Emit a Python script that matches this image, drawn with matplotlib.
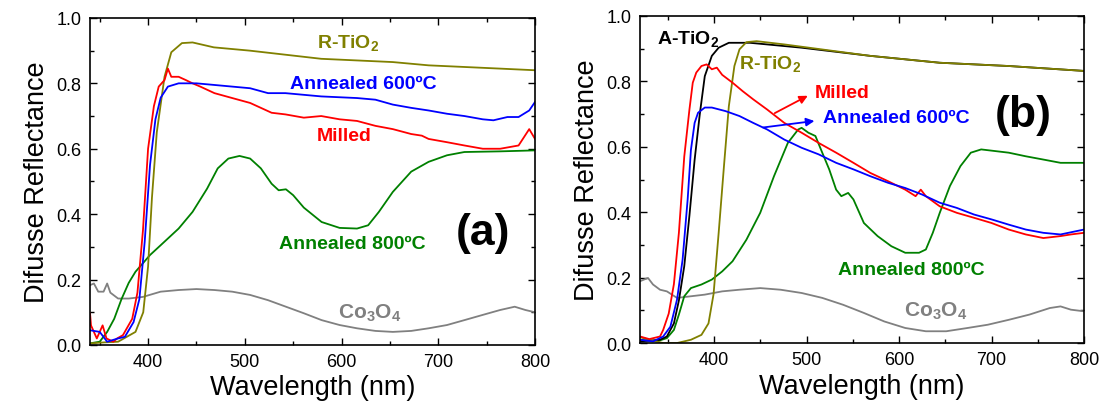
import matplotlib
matplotlib.use("Agg")
import matplotlib.pyplot as plt
from matplotlib.ticker import MultipleLocator

plt.rcParams['font.family'] = ['Liberation Sans', 'DejaVu Sans']
plt.rcParams['mathtext.fontset'] = 'custom'
plt.rcParams['mathtext.rm'] = 'Liberation Sans:bold'
plt.rcParams['mathtext.bf'] = 'Liberation Sans:bold'
plt.rcParams['mathtext.it'] = 'Liberation Sans:bold'

# ---------------- Panel (a) data ----------------
a_rtio2_w = [340, 355, 369, 387, 395, 400, 404, 409, 417, 424, 435, 446, 468, 505, 579, 653, 690, 764, 800]
a_rtio2_r = [0.005, 0.008, 0.01, 0.04, 0.10, 0.24, 0.45, 0.65, 0.82, 0.895, 0.923, 0.925, 0.91, 0.90, 0.875, 0.865, 0.855, 0.845, 0.84]

a_milled_w = [340, 341, 344, 347, 353, 357, 364, 368, 374, 383.6, 389, 394.7, 400, 406, 411, 417, 420.5, 424, 431.6, 439, 446, 454, 468.6, 487, 505.5, 527.7, 542, 561, 579, 598, 616, 635, 653, 672, 683, 690, 709, 727, 746, 764, 783, 794, 800]
a_milled_r = [0.097, 0.06, 0.04, 0.02, 0.06, 0.02, 0.01, 0.02, 0.03, 0.08, 0.16, 0.35, 0.60, 0.73, 0.79, 0.81, 0.845, 0.82, 0.82, 0.81, 0.80, 0.79, 0.77, 0.755, 0.74, 0.71, 0.705, 0.695, 0.70, 0.69, 0.685, 0.67, 0.66, 0.645, 0.64, 0.63, 0.62, 0.61, 0.60, 0.60, 0.61, 0.66, 0.63]

a_ann600_w = [340, 350, 357.7, 369, 376, 385, 391, 396.5, 402, 407.6, 413, 420.5, 431.6, 450, 468.6, 487, 505.5, 524, 542, 579, 616, 635, 653, 672, 690, 709, 727, 746, 757, 771.5, 783, 794, 800]
a_ann600_r = [0.045, 0.04, 0.01, 0.02, 0.025, 0.07, 0.14, 0.315, 0.55, 0.69, 0.756, 0.79, 0.80, 0.80, 0.795, 0.79, 0.785, 0.77, 0.77, 0.76, 0.755, 0.75, 0.735, 0.725, 0.717, 0.707, 0.70, 0.69, 0.687, 0.697, 0.697, 0.717, 0.743]

a_ann800_w = [340, 350, 357.7, 365, 372.5, 380, 387, 394.7, 402, 413, 431.6, 446, 461, 472, 483, 494.5, 505.5, 516.6, 527.7, 535, 542.5, 550, 561, 579.4, 598, 616, 627.5, 638.6, 653, 672, 690, 709, 727, 764, 800]
a_ann800_r = [0.005, 0.01, 0.04, 0.08, 0.14, 0.19, 0.224, 0.25, 0.275, 0.305, 0.356, 0.407, 0.478, 0.54, 0.57, 0.578, 0.57, 0.54, 0.493, 0.473, 0.476, 0.458, 0.42, 0.376, 0.358, 0.356, 0.366, 0.407, 0.468, 0.53, 0.56, 0.58, 0.59, 0.592, 0.595]

a_co3o4_w = [340, 344, 348.5, 354, 357.7, 361, 369, 380, 394.7, 413, 431.6, 450, 468.6, 487, 505.5, 524, 542.5, 561, 579.4, 598, 616, 635, 653, 672, 690, 709, 727, 746, 764, 779, 790, 800]
a_co3o4_r = [0.183, 0.188, 0.163, 0.163, 0.188, 0.16, 0.142, 0.142, 0.147, 0.163, 0.168, 0.171, 0.168, 0.163, 0.153, 0.137, 0.117, 0.097, 0.076, 0.061, 0.051, 0.043, 0.04, 0.043, 0.051, 0.061, 0.076, 0.092, 0.107, 0.117, 0.107, 0.10]

# ---------------- Panel (b) data ----------------
b_atio2_w = [320, 341.6, 349, 356.6, 362, 367.8, 373.4, 379, 384.6, 390, 397.6, 405, 416, 438.7, 494.7, 569, 644, 718.6, 800]
b_atio2_r = [0.005, 0.01, 0.02, 0.06, 0.13, 0.235, 0.39, 0.56, 0.70, 0.816, 0.878, 0.903, 0.918, 0.918, 0.903, 0.878, 0.857, 0.847, 0.832]

b_rtio2_w = [320, 330, 345, 360, 375, 386.4, 394, 399.5, 405, 410.7, 416, 422, 427.5, 435, 446, 476, 569, 644, 718.6, 800]
b_rtio2_r = [0.018, 0.01, 0.0, 0.0, 0.01, 0.025, 0.06, 0.15, 0.337, 0.54, 0.724, 0.847, 0.898, 0.92, 0.923, 0.913, 0.878, 0.857, 0.847, 0.832]

b_milled_w = [320, 330, 341.6, 345, 351, 356.6, 362, 367.8, 373.4, 377, 380.8, 386.4, 392, 397.6, 403, 408.8, 420, 431, 442.4, 457.4, 476, 494.7, 513, 532, 550.7, 569, 588, 606.7, 617.9, 623.5, 629, 644, 662.6, 681, 700, 718.6, 737, 756, 774.6, 785.8, 800]
b_milled_r = [0.02, 0.012, 0.02, 0.04, 0.09, 0.18, 0.337, 0.57, 0.714, 0.796, 0.827, 0.847, 0.852, 0.837, 0.842, 0.82, 0.796, 0.77, 0.745, 0.714, 0.673, 0.643, 0.612, 0.582, 0.551, 0.52, 0.495, 0.469, 0.449, 0.469, 0.449, 0.418, 0.398, 0.383, 0.367, 0.347, 0.332, 0.321, 0.327, 0.332, 0.337]

b_ann600_w = [320, 334, 345, 352.8, 360, 366, 371.5, 375, 379, 382.7, 390, 397.6, 412.6, 427.5, 442.4, 457.4, 476, 494.7, 513, 532, 550.7, 569, 588, 606.7, 625, 644, 662.6, 681, 700, 718.6, 737, 756, 774.6, 800]
b_ann600_r = [0.01, 0.005, 0.02, 0.05, 0.133, 0.255, 0.44, 0.59, 0.673, 0.704, 0.72, 0.72, 0.709, 0.694, 0.673, 0.653, 0.622, 0.597, 0.577, 0.551, 0.531, 0.51, 0.49, 0.474, 0.454, 0.429, 0.413, 0.393, 0.378, 0.362, 0.347, 0.337, 0.332, 0.347]

b_ann800_w = [320, 338, 349, 356.6, 362, 367.8, 375, 386.4, 397.6, 408.8, 420, 435, 449.9, 464.8, 479.8, 491, 494.7, 502, 509.6, 517, 524.5, 532, 537.6, 545, 550.7, 562, 576.8, 591.7, 606.7, 621.6, 629, 636.5, 644, 655, 666.4, 677.6, 688.8, 703.7, 718.6, 737, 756, 774.6, 800]
b_ann800_r = [0.01, 0.005, 0.015, 0.04, 0.087, 0.143, 0.168, 0.179, 0.194, 0.219, 0.25, 0.316, 0.398, 0.51, 0.612, 0.653, 0.658, 0.643, 0.633, 0.582, 0.531, 0.469, 0.449, 0.459, 0.439, 0.367, 0.327, 0.296, 0.276, 0.276, 0.286, 0.337, 0.398, 0.48, 0.541, 0.582, 0.592, 0.587, 0.582, 0.571, 0.561, 0.551, 0.551]

b_co3o4_w = [320, 328.6, 334, 341.6, 349, 360, 375, 390, 408.8, 427.5, 450, 472, 494.7, 517, 539.5, 562, 584, 606.7, 629, 651, 674, 696, 718.6, 741, 763, 774.6, 785.8, 800]
b_co3o4_r = [0.189, 0.199, 0.179, 0.163, 0.158, 0.138, 0.143, 0.148, 0.158, 0.163, 0.168, 0.163, 0.153, 0.138, 0.117, 0.092, 0.066, 0.046, 0.036, 0.036, 0.046, 0.056, 0.071, 0.087, 0.107, 0.112, 0.102, 0.097]

x_ticks = [400, 500, 600, 700, 800]
y_ticks = [0.0, 0.2, 0.4, 0.6, 0.8, 1.0]

OLIVE = '#808000'
BLUE = '#0000FF'
RED = '#FF0000'
GREEN = '#008000'
GRAY = '#808080'
BLACK = '#000000'

fig = plt.figure(figsize=(11.02, 4.14), dpi=100)
axA = fig.add_axes([0.0817, 0.1643, 0.4038, 0.790])
axB = fig.add_axes([0.5808, 0.1690, 0.4029, 0.790])

LW = 1.3
lblfs = 14

def style(ax, xmin):
    ax.set_xlim(xmin, 800)
    ax.set_ylim(0, 1.0)
    ax.set_xticks(x_ticks)
    ax.set_yticks(y_ticks)
    ax.set_yticklabels(['%.1f' % v for v in y_ticks])
    ax.xaxis.set_minor_locator(MultipleLocator(50))
    ax.yaxis.set_minor_locator(MultipleLocator(0.1))
    ax.tick_params(which='both', direction='in', top=True, right=True, width=1.0, labelsize=13, pad=6)
    ax.tick_params(which='major', length=5)
    ax.tick_params(which='minor', length=3)
    for s in ax.spines.values():
        s.set_linewidth(1.2)
    ax.set_xlabel('Wavelength (nm)', fontsize=19.5, labelpad=3)
    ax.set_ylabel('Difusse Reflectance', fontsize=19.5, labelpad=5)

# Panel (a)
axA.plot(a_co3o4_w, a_co3o4_r, color=GRAY, lw=LW)
axA.plot(a_ann800_w, a_ann800_r, color=GREEN, lw=LW)
axA.plot(a_rtio2_w, a_rtio2_r, color=OLIVE, lw=LW)
axA.plot(a_milled_w, a_milled_r, color=RED, lw=LW)
axA.plot(a_ann600_w, a_ann600_r, color=BLUE, lw=LW)
style(axA, 340)
axA.text(607, 0.925, r'R-TiO$_2$', color=OLIVE, fontsize=lblfs, fontweight='bold', ha='center', va='center')
axA.text(622, 0.80, 'Annealed 600ºC', color=BLUE, fontsize=lblfs, fontweight='bold', ha='center', va='center')
axA.text(603, 0.64, 'Milled', color=RED, fontsize=lblfs, fontweight='bold', ha='center', va='center')
axA.text(611, 0.31, 'Annealed 800ºC', color=GREEN, fontsize=lblfs, fontweight='bold', ha='center', va='center')
axA.text(629, 0.10, r'Co$_3$O$_4$', color=GRAY, fontsize=lblfs + 1, fontweight='bold', ha='center', va='center')
axA.text(746, 0.345, '(a)', color=BLACK, fontsize=32, fontweight='bold', ha='center', va='center')

# Panel (b)
axB.plot(b_co3o4_w, b_co3o4_r, color=GRAY, lw=LW)
axB.plot(b_ann800_w, b_ann800_r, color=GREEN, lw=LW)
axB.plot(b_atio2_w, b_atio2_r, color=BLACK, lw=LW)
axB.plot(b_rtio2_w, b_rtio2_r, color=OLIVE, lw=LW)
axB.plot(b_milled_w, b_milled_r, color=RED, lw=LW)
axB.plot(b_ann600_w, b_ann600_r, color=BLUE, lw=LW)
style(axB, 320)
axB.text(371.5, 0.934, r'A-TiO$_2$', color=BLACK, fontsize=lblfs, fontweight='bold', ha='center', va='center')
axB.text(461, 0.857, r'R-TiO$_2$', color=OLIVE, fontsize=lblfs, fontweight='bold', ha='center', va='center')
axB.text(538, 0.765, 'Milled', color=RED, fontsize=lblfs, fontweight='bold', ha='center', va='center')
axB.text(597, 0.689, 'Annealed 600ºC', color=BLUE, fontsize=lblfs, fontweight='bold', ha='center', va='center')
axB.text(613, 0.224, 'Annealed 800ºC', color=GREEN, fontsize=lblfs, fontweight='bold', ha='center', va='center')
axB.text(640, 0.10, r'Co$_3$O$_4$', color=GRAY, fontsize=lblfs + 1, fontweight='bold', ha='center', va='center')
axB.text(734, 0.699, '(b)', color=BLACK, fontsize=32, fontweight='bold', ha='center', va='center')
axB.annotate('', xy=(504, 0.76), xytext=(463, 0.699),
             arrowprops=dict(arrowstyle='-|>', color=RED, lw=1.3, mutation_scale=12))
axB.annotate('', xy=(511.5, 0.68), xytext=(450, 0.658),
             arrowprops=dict(arrowstyle='-|>', color=BLUE, lw=1.3, mutation_scale=12))

fig.savefig('out.png', dpi=100)
